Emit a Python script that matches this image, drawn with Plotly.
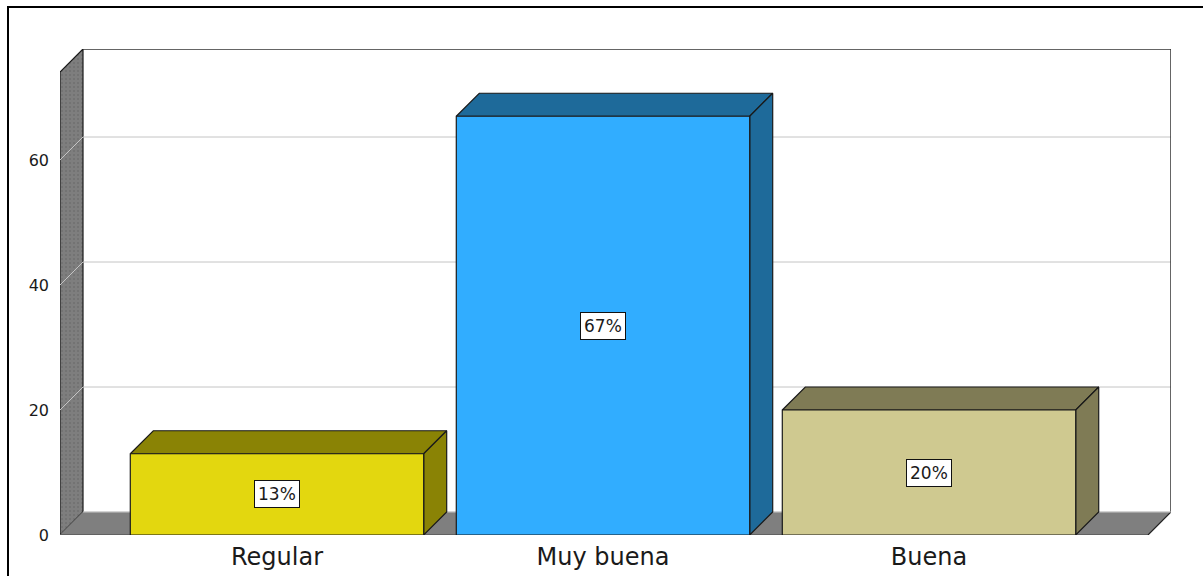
import plotly.graph_objects as go

# Survey results (percent of respondents)
categories = ["Regular", "Muy buena", "Buena"]
values = [13, 67, 20]
y_ticks = [0, 20, 40, 60]

front_colors = ["#E3D70F", "#31ADFF", "#CFC990"]
shade_colors = ["#8A8305", "#1E6A9A", "#7F7B55"]

W, H = 1203, 576
ML, MR, MT, MB = 60, 32, 49, 41

X_MIN, X_MAX = -0.6656, 2.7423
Y_MIN, Y_MAX = 0.0, 77.76
px_x = (W - ML - MR) / (X_MAX - X_MIN)
px_y = (H - MT - MB) / (Y_MAX - Y_MIN)

DEPTH = 23  # pixels of oblique depth
dx = DEPTH / px_x
dy = DEPTH / px_y
bar_w = 0.9

xL, xR = X_MIN, X_MAX
wall_top = Y_MAX - dy

fig = go.Figure()


def poly(xs, ys, fill, line_color="#1a1a1a", lw=1.2, **kw):
    fig.add_trace(go.Scatter(
        x=list(xs) + [xs[0]], y=list(ys) + [ys[0]],
        mode="lines", fill="toself", fillcolor=fill,
        line=dict(color=line_color, width=lw),
        hoverinfo="skip", showlegend=False, **kw))


def seg(xs, ys, color, lw=1.0):
    fig.add_trace(go.Scatter(
        x=xs, y=ys, mode="lines", line=dict(color=color, width=lw),
        hoverinfo="skip", showlegend=False))


# left side wall (stippled grey)
poly([xL, xL, xL + dx, xL + dx], [0, wall_top, Y_MAX, dy], "#7d7d7d",
     fillpattern=dict(shape=".", bgcolor="#7e7e7e", fgcolor="#676767",
                      size=4, solidity=0.3))

# gridlines on the side wall and back wall
for t in y_ticks[1:]:
    seg([xL, xL + dx, xR], [t, t + dy, t + dy], "#c4c4c4", 1.0)

# back wall outline (top and right edges)
seg([xL + dx, xR, xR], [Y_MAX, Y_MAX, dy], "#333333", 1.5)

# floor
poly([xL, xL + dx, xR, xR - dx], [0, dy, dy, 0], "#7f7f7f",
     line_color="#7f7f7f", lw=0.5)
seg([xR - dx, xR], [0, dy], "#222222", 1.2)
seg([xL + dx, xR], [dy, dy], "#c8c8c8", 1.0)
seg([xL, xR - dx], [0, 0], "#444444", 1.0)

# 3D bars: top, side, front
for i, (v, fc, sc) in enumerate(zip(values, front_colors, shade_colors)):
    x0, x1 = i - bar_w / 2, i + bar_w / 2
    poly([x0, x0 + dx, x1 + dx, x1], [v, v + dy, v + dy, v], sc)
    poly([x1, x1, x1 + dx, x1 + dx], [0, v, v + dy, dy], sc)
    poly([x0, x0, x1, x1], [0, v, v, 0], fc)

# value labels in boxes
for i, v in enumerate(values):
    fig.add_annotation(
        x=i, y=v / 2, text=f"{v}%", showarrow=False,
        font=dict(family="DejaVu Sans", size=17, color="#1a1a1a"),
        bgcolor="white", bordercolor="#111111", borderwidth=1, borderpad=3)

# outer frame
fx0 = (8 - ML) / (W - ML - MR)
fy1 = (H - MB - 7) / (H - MT - MB)
fig.add_shape(type="rect", xref="paper", yref="paper",
              x0=fx0, x1=1.2, y0=-0.3, y1=fy1,
              line=dict(color="black", width=2), fillcolor="rgba(0,0,0,0)",
              layer="above")

fig.update_layout(
    width=W, height=H,
    margin=dict(l=ML, r=MR, t=MT, b=MB, autoexpand=False),
    paper_bgcolor="white", plot_bgcolor="white",
    showlegend=False,
    xaxis=dict(range=[X_MIN, X_MAX], tickvals=list(range(len(categories))),
               ticktext=categories, showgrid=False, zeroline=False,
               showline=False, ticks="", ticklabelstandoff=5,
               automargin=False,
               tickfont=dict(family="DejaVu Sans", size=24, color="#1a1a1a"),
               fixedrange=True),
    yaxis=dict(range=[Y_MIN, Y_MAX], tickvals=y_ticks,
               showgrid=False, zeroline=False, showline=False, ticks="",
               ticklabelstandoff=10, automargin=False,
               tickfont=dict(family="DejaVu Sans", size=16, color="#1a1a1a"),
               fixedrange=True),
)

fig.write_html("out.html")
